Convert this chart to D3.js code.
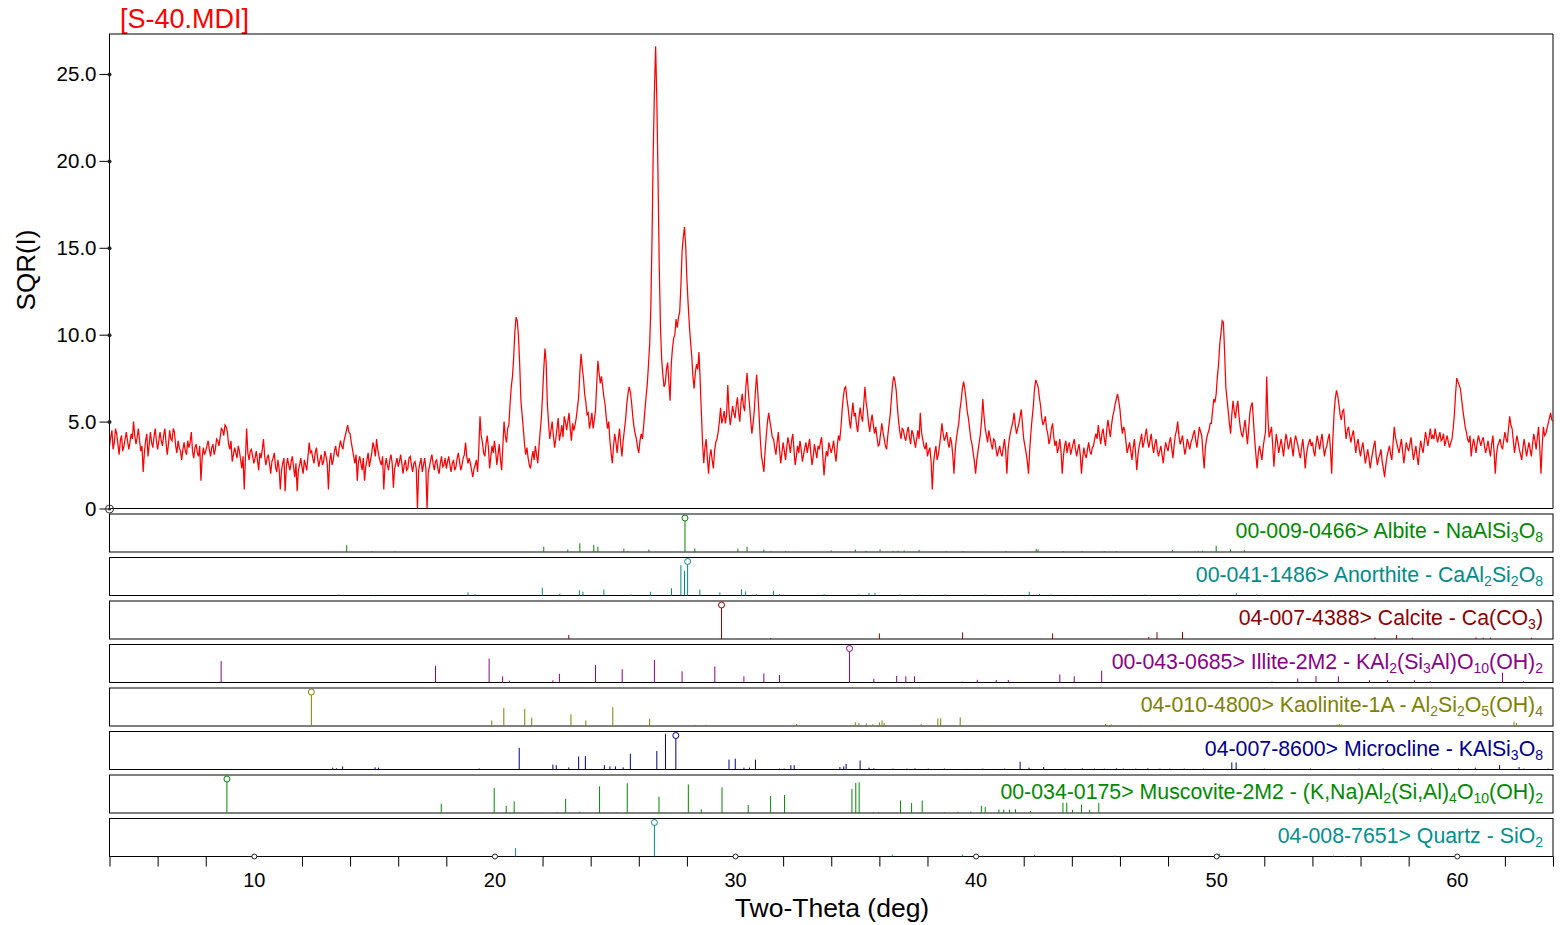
<!DOCTYPE html>
<html>
<head>
<meta charset="utf-8">
<script src="https://cdn.jsdelivr.net/npm/d3@7"></script>
<style>
  body { margin: 0; background: #fff; }
  svg { display: block; font-family: "Liberation Sans", Arial, sans-serif; }
</style>
</head>
<body>
<svg id="chart" width="1560" height="925"></svg>
<script>
// scan: SQR(I), 4.00 to 64.00 deg in 0.05 deg steps (one row per degree)
const twoThetaStart = 4.0;
const twoThetaStep = 0.05;
const sqrIntensity = [
  3.6, 4.1, 4.5, 3.4, 3.8, 4.6, 4.3, 3.7, 3.1, 3.9, 4.2, 3.3, 3.6, 4.0, 4.4, 3.9, 3.4, 3.8, 4.3, 4.0,
  5.0, 4.2, 3.7, 4.1, 4.6, 3.9, 3.3, 3.6, 2.1, 3.2, 3.9, 4.3, 3.0, 3.7, 4.4, 3.8, 3.5, 4.1, 4.6, 3.9,
  3.4, 3.9, 4.4, 3.9, 3.6, 4.2, 4.6, 3.8, 3.1, 3.7, 4.5, 4.0, 3.9, 4.6, 4.4, 3.6, 3.2, 3.9, 3.5, 3.3,
  2.8, 3.4, 3.8, 3.3, 3.1, 3.9, 3.5, 3.8, 4.4, 3.3, 2.9, 3.5, 3.7, 3.2, 3.0, 3.6, 1.6, 2.9, 3.5, 3.1,
  3.3, 3.6, 3.9, 3.4, 3.0, 3.5, 3.7, 3.1, 3.4, 4.0, 3.9, 3.6, 4.1, 4.6, 4.5, 4.2, 4.8, 4.7, 4.4, 3.7,
  3.4, 3.9, 2.7, 3.1, 3.5, 3.2, 2.9, 3.6, 3.3, 2.8, 2.3, 3.0, 1.1, 2.9, 4.6, 3.2, 2.8, 3.3, 3.4, 3.0,
  2.6, 2.9, 3.3, 2.8, 2.2, 3.2, 2.9, 3.4, 4.0, 3.0, 2.5, 2.9, 3.1, 2.6, 2.0, 2.7, 2.9, 3.2, 2.4, 2.1,
  2.8, 2.3, 1.1, 2.2, 2.6, 2.9, 1.0, 2.4, 2.9, 2.5, 2.2, 2.7, 3.0, 2.4, 1.8, 2.6, 1.0, 2.2, 2.5, 2.9,
  2.4, 2.0, 2.8, 2.5, 2.2, 3.0, 3.8, 3.2, 3.3, 2.9, 2.6, 3.2, 3.5, 2.9, 2.4, 2.8, 3.1, 2.5, 2.7, 3.3,
  3.0, 2.6, 1.1, 2.7, 3.2, 2.5, 2.8, 3.3, 3.6, 3.1, 3.0, 3.5, 3.9, 3.6, 3.4, 3.9, 4.2, 4.5, 4.8, 4.4,
  4.3, 3.8, 3.4, 3.0, 2.6, 3.1, 1.6, 2.7, 3.0, 2.6, 2.2, 2.9, 1.6, 2.4, 2.8, 3.2, 2.4, 2.8, 3.2, 3.8,
  3.5, 3.0, 4.0, 3.4, 3.0, 2.7, 2.5, 3.0, 1.1, 2.4, 2.9, 2.5, 2.2, 2.8, 3.1, 2.6, 1.2, 2.3, 2.6, 2.9,
  2.4, 2.7, 3.1, 2.6, 2.0, 2.5, 2.8, 2.2, 2.3, 2.9, 3.0, 2.5, 2.1, 2.6, 2.7, 2.3, 0.0, 2.2, 2.6, 2.9,
  2.1, 2.5, 2.9, 2.3, 0.0, 2.1, 2.4, 2.8, 3.1, 2.6, 2.2, 2.7, 2.8, 2.3, 2.0, 2.6, 3.0, 2.4, 2.5, 2.9,
  2.3, 2.7, 3.0, 2.5, 2.1, 2.6, 2.8, 2.2, 2.4, 2.9, 3.2, 2.7, 2.2, 2.5, 2.9, 3.1, 3.8, 3.0, 2.6, 2.9,
  2.6, 2.2, 1.8, 2.3, 2.5, 2.8, 2.1, 3.4, 5.3, 4.2, 3.8, 3.2, 3.0, 3.7, 4.2, 3.5, 2.3, 3.0, 3.6, 3.2,
  3.9, 3.3, 2.5, 3.1, 3.7, 2.8, 2.2, 3.6, 5.0, 4.2, 3.8, 4.6, 4.8, 6.0, 7.0, 7.6, 8.7, 10.2, 11.0, 10.8,
  9.9, 8.3, 6.2, 5.4, 4.6, 3.7, 3.1, 3.5, 2.9, 2.5, 2.3, 2.9, 3.3, 2.8, 3.6, 3.1, 2.6, 3.5, 4.4, 5.2,
  6.5, 8.0, 9.2, 8.4, 6.0, 4.9, 4.0, 4.5, 5.0, 4.2, 3.5, 4.0, 4.6, 5.2, 3.9, 4.3, 4.8, 4.1, 5.3, 5.0,
  4.5, 5.0, 5.5, 4.6, 3.9, 4.9, 4.5, 4.8, 5.2, 5.8, 6.4, 7.8, 8.9, 8.1, 7.5, 6.6, 6.1, 5.4, 5.5, 4.6,
  5.0, 5.5, 4.6, 5.1, 5.6, 7.1, 8.5, 7.8, 7.2, 7.6, 7.0, 6.4, 6.0, 5.2, 4.6, 5.0, 3.9, 3.2, 2.6, 3.6,
  4.3, 3.8, 3.2, 4.0, 4.6, 3.7, 3.0, 3.9, 4.5, 5.1, 6.0, 6.6, 7.0, 6.7, 6.1, 5.3, 4.7, 4.3, 4.0, 3.5,
  3.2, 3.9, 4.3, 4.0, 4.7, 5.6, 6.4, 7.1, 8.2, 9.4, 11.5, 15.5, 20.5, 24.0, 26.6, 23.5, 19.0, 14.0, 10.5, 8.6,
  7.7, 7.0, 7.2, 8.0, 8.4, 7.3, 6.2, 8.3, 9.2, 9.8, 10.0, 10.9, 10.4, 11.0, 11.3, 12.8, 14.8, 15.6, 16.2, 15.1,
  13.2, 11.8, 10.6, 9.6, 8.8, 7.6, 6.9, 7.8, 8.3, 8.0, 9.0, 7.4, 5.6, 3.8, 2.6, 3.5, 4.0, 2.9, 2.0, 3.0,
  3.4, 2.8, 2.3, 3.3, 3.8, 4.0, 4.4, 5.0, 5.8, 4.9, 5.2, 5.6, 4.9, 5.4, 7.1, 5.6, 4.8, 5.3, 5.9, 5.5,
  5.2, 5.9, 6.4, 5.5, 5.0, 6.1, 6.6, 5.9, 5.6, 7.0, 7.8, 6.8, 6.0, 5.1, 4.3, 4.9, 5.6, 6.8, 7.7, 6.6,
  5.4, 4.0, 3.0, 2.6, 2.1, 3.3, 4.2, 5.0, 5.5, 5.0, 4.6, 4.1, 4.0, 3.5, 3.1, 3.8, 4.4, 3.4, 2.6, 3.2,
  3.8, 3.3, 2.8, 3.5, 4.1, 3.7, 3.2, 3.9, 4.3, 3.4, 2.5, 3.0, 3.6, 3.2, 3.9, 3.4, 2.7, 3.1, 3.5, 3.8,
  3.2, 3.6, 4.0, 3.2, 2.5, 3.0, 3.7, 3.3, 2.9, 3.6, 3.4, 3.8, 4.1, 3.0, 1.9, 2.8, 3.3, 3.0, 3.8, 3.5,
  3.2, 3.5, 3.9, 3.2, 2.7, 3.6, 4.2, 3.9, 4.6, 5.6, 6.4, 6.9, 7.0, 6.3, 5.8, 5.1, 4.6, 5.4, 6.1, 5.3,
  5.5, 4.8, 4.4, 5.2, 5.8, 5.3, 5.0, 6.0, 7.0, 6.1, 5.6, 4.9, 4.4, 5.0, 5.4, 4.8, 4.3, 4.7, 4.1, 3.6,
  3.7, 4.3, 4.9, 4.4, 4.0, 3.6, 3.4, 4.2, 4.8, 5.4, 6.3, 7.2, 7.6, 7.3, 6.8, 5.8, 5.0, 4.4, 4.0, 4.6,
  4.5, 4.1, 3.9, 4.4, 4.7, 4.1, 3.7, 4.5, 4.3, 3.9, 3.5, 4.0, 4.5, 4.0, 5.5, 4.4, 4.0, 3.6, 3.4, 3.8,
  3.0, 3.3, 3.5, 2.7, 1.1, 2.6, 3.2, 3.6, 2.8, 3.1, 3.6, 4.2, 4.9, 4.3, 3.9, 4.1, 4.4, 3.8, 3.5, 4.1,
  3.8, 3.1, 2.0, 3.3, 4.0, 4.5, 4.9, 5.7, 6.2, 6.9, 7.3, 6.9, 6.3, 5.6, 5.2, 4.6, 4.0, 3.7, 3.2, 2.7,
  2.0, 2.8, 3.3, 3.8, 4.3, 5.1, 6.3, 5.3, 4.6, 4.2, 3.8, 4.5, 4.1, 3.7, 3.4, 4.0, 3.9, 3.4, 3.0, 3.3,
  3.6, 3.2, 3.0, 3.5, 4.0, 3.3, 2.0, 3.4, 4.0, 4.4, 4.7, 5.0, 5.5, 4.8, 4.3, 4.6, 4.9, 5.3, 5.7, 4.8,
  4.0, 3.6, 3.2, 2.7, 2.0, 3.4, 4.4, 5.2, 5.9, 6.9, 7.4, 7.2, 7.0, 6.4, 5.9, 5.2, 4.8, 5.0, 5.3, 4.6,
  4.3, 3.7, 4.0, 4.6, 4.9, 4.1, 3.6, 3.9, 3.2, 3.5, 4.0, 3.3, 2.0, 3.0, 3.6, 3.9, 3.2, 3.6, 3.8, 3.1,
  3.4, 3.7, 4.0, 3.4, 3.0, 3.4, 3.7, 3.1, 2.0, 2.9, 3.5, 3.1, 2.9, 3.4, 3.8, 3.3, 3.1, 3.5, 3.6, 4.0,
  4.3, 4.0, 4.8, 4.2, 3.7, 4.3, 4.6, 4.0, 3.6, 4.5, 5.1, 4.6, 4.1, 4.8, 5.3, 5.6, 6.0, 6.3, 6.6, 6.2,
  5.7, 4.9, 4.3, 4.7, 4.5, 3.8, 3.2, 3.5, 3.8, 3.3, 2.8, 3.5, 4.0, 3.2, 2.2, 3.1, 3.6, 3.9, 4.3, 3.5,
  3.8, 4.2, 4.6, 3.9, 3.5, 3.9, 4.3, 3.6, 3.2, 3.7, 4.0, 3.4, 3.0, 3.3, 3.6, 3.1, 2.6, 3.3, 3.8, 3.5,
  3.3, 3.8, 4.1, 3.5, 2.9, 3.6, 4.2, 4.5, 5.0, 4.2, 3.7, 3.9, 4.2, 3.6, 3.1, 3.5, 4.0, 3.7, 3.4, 3.8,
  4.0, 4.3, 4.5, 3.9, 3.5, 4.1, 4.7, 4.4, 4.2, 3.2, 2.3, 3.5, 4.0, 4.3, 4.5, 4.9, 4.9, 5.6, 6.3, 6.1,
  6.6, 7.6, 8.3, 9.5, 10.1, 10.8, 10.7, 9.0, 7.0, 6.3, 5.6, 4.9, 4.3, 5.4, 6.2, 5.6, 5.2, 5.8, 6.2, 5.3,
  4.7, 4.3, 4.1, 4.6, 5.1, 4.4, 3.7, 4.6, 5.5, 5.9, 6.1, 5.0, 4.0, 3.1, 2.3, 3.2, 3.6, 3.2, 2.8, 3.5,
  4.0, 4.4, 7.6, 5.2, 4.1, 4.4, 4.7, 3.6, 2.4, 3.5, 4.3, 3.8, 3.2, 3.6, 4.0, 3.5, 3.0, 3.7, 4.3, 3.9,
  3.4, 3.7, 4.1, 3.5, 3.0, 3.8, 4.2, 3.9, 3.6, 3.2, 2.9, 3.5, 4.0, 3.3, 2.3, 3.1, 3.5, 3.8, 4.0, 3.6,
  3.8, 3.3, 3.0, 3.7, 4.2, 3.8, 3.4, 3.9, 4.3, 3.6, 3.0, 3.4, 3.6, 4.0, 4.3, 3.4, 2.0, 4.0, 5.5, 6.3,
  6.8, 6.5, 6.0, 5.4, 5.1, 5.6, 5.7, 4.8, 4.0, 4.5, 4.7, 4.2, 3.8, 4.2, 4.5, 3.9, 3.2, 3.7, 4.0, 3.4,
  3.0, 3.5, 3.8, 3.2, 2.6, 3.0, 3.4, 2.9, 2.3, 2.8, 3.2, 3.6, 3.9, 3.0, 2.5, 2.9, 3.1, 3.4, 2.7, 2.3,
  1.8, 2.5, 3.0, 3.3, 3.6, 3.1, 2.8, 3.7, 4.7, 4.1, 3.8, 3.5, 3.2, 3.6, 4.0, 3.3, 2.6, 3.2, 3.8, 3.5,
  3.3, 3.7, 4.1, 3.4, 2.8, 3.2, 3.6, 3.0, 2.5, 3.3, 3.9, 3.5, 3.2, 3.8, 4.4, 4.0, 3.6, 4.1, 4.6, 4.0,
  4.2, 4.0, 4.6, 4.2, 3.8, 4.1, 4.4, 3.9, 4.0, 4.3, 3.6, 3.9, 4.2, 3.8, 3.5, 3.8, 4.0, 4.6, 5.4, 6.6,
  7.5, 7.3, 7.1, 6.9, 6.3, 5.7, 5.2, 4.7, 4.4, 4.0, 3.8, 4.2, 3.0, 3.6, 4.0, 3.6, 3.2, 3.8, 4.2, 3.9,
  3.6, 3.9, 4.1, 3.6, 3.2, 3.5, 3.9, 3.4, 3.0, 3.7, 4.2, 3.3, 2.0, 3.1, 3.6, 3.8, 4.0, 3.6, 3.4, 3.9,
  4.4, 4.0, 3.8, 4.6, 5.3, 4.8, 4.6, 3.9, 3.2, 3.7, 4.2, 3.8, 3.4, 3.1, 2.8, 3.5, 4.0, 3.5, 3.0, 3.4,
  3.8, 3.4, 3.0, 3.7, 4.3, 3.9, 3.4, 4.1, 4.7, 3.5, 2.0, 3.6, 4.7, 4.2, 4.3, 4.6, 4.9, 5.2, 5.5, 5.1,
  5.0
];

const yTicks = [0, 5, 10, 15, 20, 25];
const xLabelTicks = [10, 20, 30, 40, 50, 60];
const xMinorTicks = [4, 6, 8, 12, 14, 16, 18, 22, 24, 26, 28, 32, 34, 36, 38,
  42, 44, 46, 48, 52, 54, 56, 58, 62, 64];

// reference cards: [2theta, relative intensity %]
const albitePeaks = [[13.86, 22], [14.9, 3], [15.86, 3], [22.05, 17], [23.05, 8], [23.55, 28],
  [24.13, 23], [24.3, 17], [25.38, 11], [25.55, 3], [26.42, 8], [27.92, 100], [28.33, 11],
  [30.12, 11], [30.5, 17], [31.2, 8], [31.5, 3], [32.1, 3], [34.0, 5], [35.0, 8], [35.45, 4],
  [36.03, 8], [36.57, 4], [36.78, 4], [37.03, 5], [37.65, 7], [38.78, 3], [39.48, 3],
  [41.27, 3], [42.52, 10], [42.6, 8], [43.64, 3], [44.43, 3], [45.35, 3], [45.85, 3],
  [48.18, 7], [49.26, 3], [49.43, 4], [50.0, 20], [50.6, 8], [51.17, 6]];
const anorthitePeaks = [[13.53, 3], [14.98, 2], [18.9, 10], [19.2, 4], [21.99, 25], [22.72, 6],
  [23.53, 17], [23.68, 12], [24.55, 19], [25.67, 3], [26.49, 12], [27.36, 23], [27.75, 98],
  [27.9, 80], [28.03, 100], [28.54, 19], [29.37, 10], [30.27, 20], [30.44, 13], [30.9, 4],
  [31.6, 15], [31.85, 4], [33.7, 4], [35.16, 3], [35.57, 8], [35.82, 8], [36.86, 3],
  [37.36, 2], [37.69, 3], [38.24, 2], [38.74, 3], [39.8, 2], [40.4, 3], [41.23, 2],
  [42.23, 12], [42.66, 5], [43.14, 3], [44.0, 2], [44.8, 2], [45.63, 2], [47.05, 3],
  [47.2, 2], [48.47, 3], [49.3, 3], [49.63, 2], [50.84, 8], [51.67, 3], [51.93, 2],
  [53.3, 2], [53.5, 2], [54.9, 2], [56.5, 2], [57.14, 2], [58.15, 2], [58.96, 2],
  [60.57, 2], [61.37, 2], [62.28, 2], [62.95, 2]];
const calcitePeaks = [[23.09, 13], [29.44, 100], [31.48, 3], [36.0, 18], [39.46, 21],
  [43.2, 18], [47.2, 7], [47.54, 22], [48.6, 23], [56.6, 5], [57.5, 13], [58.15, 4],
  [60.8, 5], [61.1, 4], [61.4, 4], [63.1, 4]];
const illitePeaks = [[8.64, 69], [17.55, 54], [19.78, 77], [20.34, 20], [20.62, 6], [22.43, 7],
  [22.7, 28], [24.2, 56], [25.31, 43], [26.65, 73], [27.8, 36], [29.16, 52], [30.37, 20],
  [31.2, 29], [31.85, 24], [34.76, 100], [35.77, 12], [36.72, 21], [37.1, 20], [37.46, 20],
  [39.44, 3], [40.07, 9], [40.86, 8], [41.36, 8], [43.5, 26], [44.1, 20], [45.24, 38],
  [52.32, 3], [53.39, 13], [54.15, 21], [55.08, 20], [56.37, 8], [57.12, 8], [58.24, 8],
  [58.9, 4], [61.9, 32], [62.78, 4]];
const kaolinitePeaks = [[12.39, 100], [19.89, 18], [20.39, 58], [21.26, 55], [21.55, 27],
  [23.18, 38], [23.8, 18], [24.92, 61], [26.09, 3], [26.45, 23], [28.32, 4], [28.79, 4],
  [31.58, 2], [32.56, 6], [35.0, 12], [35.15, 10], [35.46, 8], [35.73, 6], [36.0, 12],
  [36.11, 18], [36.2, 10], [37.74, 6], [38.43, 24], [38.55, 25], [39.36, 28], [40.1, 3],
  [45.4, 6], [45.64, 5], [46.85, 3], [48.07, 3], [55.02, 5], [55.12, 6], [55.22, 5],
  [62.38, 14], [62.48, 10]];
const microclinePeaks = [[13.28, 6], [13.43, 4], [13.69, 10], [15.04, 7], [15.18, 6],
  [19.37, 3], [21.03, 70], [22.43, 16], [22.57, 14], [23.09, 7], [23.5, 42], [23.78, 43],
  [24.57, 14], [24.8, 10], [25.03, 10], [25.35, 7], [25.65, 51], [26.75, 60], [27.11, 115],
  [27.54, 100], [29.75, 32], [30.01, 35], [30.37, 6], [30.6, 6], [30.85, 32], [31.85, 3],
  [32.04, 3], [32.32, 14], [32.46, 14], [34.36, 8], [34.52, 10], [34.62, 18], [35.2, 29],
  [35.57, 6], [35.77, 4], [36.57, 3], [37.14, 3], [37.48, 4], [38.03, 3], [38.7, 3],
  [39.6, 2], [40.3, 3], [40.81, 2], [41.21, 3], [41.85, 25], [42.22, 6], [42.83, 8],
  [43.72, 3], [44.43, 4], [44.94, 3], [45.35, 3], [45.85, 4], [46.14, 3], [46.66, 3],
  [47.16, 4], [47.66, 3], [48.07, 3], [48.67, 3], [49.07, 2], [49.47, 3], [49.78, 2],
  [50.65, 23], [50.83, 23], [52.0, 3], [52.9, 2], [53.92, 3], [54.92, 2], [55.93, 3],
  [56.94, 3], [57.95, 2], [58.95, 3], [60.07, 3], [60.77, 6], [61.78, 14], [62.59, 8],
  [62.79, 3], [63.8, 3]];
const muscovitePeaks = [[8.88, 100], [17.79, 30], [19.99, 81], [20.49, 23], [20.82, 37],
  [22.6, 2], [22.96, 46], [23.55, 4], [24.37, 86], [25.07, 2], [25.52, 96], [26.84, 53],
  [28.06, 92], [28.6, 12], [29.46, 83], [30.55, 26], [31.48, 55], [32.06, 58], [34.86, 78],
  [35.02, 97], [35.16, 99], [35.77, 3], [35.97, 3], [36.88, 40], [37.34, 32], [37.78, 40],
  [38.71, 2], [39.26, 4], [39.8, 5], [40.24, 23], [40.4, 19], [40.97, 11], [41.17, 11],
  [41.41, 11], [41.66, 12], [42.28, 6], [43.63, 33], [43.79, 33], [44.03, 10], [44.4, 27],
  [44.74, 10], [45.12, 32]];
const quartzPeaks = [[20.88, 27], [26.65, 100], [36.54, 6], [39.46, 6], [40.29, 3],
  [42.45, 5], [45.79, 3], [50.14, 9], [54.87, 3], [55.33, 2], [57.24, 2], [59.96, 5]];

const phaseLabels = [
  "00-009-0466> Albite - NaAlSi_3O_8",
  "00-041-1486> Anorthite - CaAl_2Si_2O_8",
  "04-007-4388> Calcite - Ca(CO_3)",
  "00-043-0685> Illite-2M2 - KAl_2(Si_3Al)O_10(OH)_2",
  "04-010-4800> Kaolinite-1A - Al_2Si_2O_5(OH)_4",
  "04-007-8600> Microcline - KAlSi_3O_8",
  "00-034-0175> Muscovite-2M2 - (K,Na)Al_2(Si,Al)_4O_10(OH)_2",
  "04-008-7651> Quartz - SiO_2"
];
const phasePeaks = [albitePeaks, anorthitePeaks, calcitePeaks, illitePeaks,
  kaolinitePeaks, microclinePeaks, muscovitePeaks, quartzPeaks];
const phaseColors = ["#008a00", "#008b8b", "#900000", "#8b008b",
  "#808000", "#000090", "#008a00", "#009090"];

const svg = d3.select("#chart");

var x = d3.scaleLinear().domain([4, 64]).range([109.5, 1553]);
var y = d3.scaleLinear().domain([0, 27.3]).range([508.5, 34]);
var stickLen = d3.scaleLinear().domain([0, 100]).range([0, 31]);

// title
svg.append("text")
  .attr("x", 120).attr("y", 28)
  .attr("font-size", 27)
  .attr("fill", "#ff0000")
  .text("[S-40.MDI]");

// main frame
svg.append("line").attr("x1", 109).attr("x2", 1553).attr("y1", 34).attr("y2", 34).attr("stroke", "#000");
svg.append("line").attr("x1", 1553).attr("x2", 1553).attr("y1", 34).attr("y2", 508.5).attr("stroke", "#000");
svg.append("line").attr("x1", 109.5).attr("x2", 109.5).attr("y1", 34).attr("y2", 508.5).attr("stroke", "#000");
svg.append("line").attr("x1", 109).attr("x2", 1553).attr("y1", 508.5).attr("y2", 508.5).attr("stroke", "#000");

// scan line
svg.append("clipPath").attr("id", "plotclip")
  .append("rect").attr("x", 110).attr("y", 34).attr("width", 1443).attr("height", 475);

var line = d3.line()
  .x(function(d, i) { return x(twoThetaStart + i * twoThetaStep); })
  .y(function(d) { return y(d); });

svg.append("path")
  .datum(sqrIntensity)
  .attr("clip-path", "url(#plotclip)")
  .attr("d", line)
  .attr("fill", "none")
  .attr("stroke", "#ff0000")
  .attr("stroke-width", 1.25);

// y axis
var yAxis = svg.append("g")
  .attr("transform", "translate(109.5,0)")
  .call(d3.axisLeft(y).tickValues(yTicks).tickSize(10).tickPadding(3)
    .tickFormat(function(d) { return d === 0 ? "0" : d.toFixed(1); }));
yAxis.select(".domain").remove();
yAxis.selectAll("text").attr("font-size", 20.5).attr("fill", "#000")
  .attr("font-family", "Liberation Sans, Arial, sans-serif");
yAxis.selectAll(".tick").each(function(d) {
  var t = d3.select(this);
  if (d === 0) {
    t.append("circle").attr("r", 4).attr("fill", "none").attr("stroke", "#333");
    t.append("circle").attr("r", 1.5).attr("fill", "#333");
  } else {
    t.append("circle").attr("r", 2).attr("fill", "#222");
  }
});

svg.append("text")
  .attr("transform", "translate(35,270) rotate(-90)")
  .attr("text-anchor", "middle")
  .attr("font-size", 26)
  .text("SQR(I)");

// reference stick panels
phasePeaks.forEach(function(peaks, i) {
  var top = 514 + 43.5 * i;
  var bottom = top + 38;
  var col = phaseColors[i];
  var g = svg.append("g");

  g.append("rect")
    .attr("x", 109.5).attr("y", top)
    .attr("width", 1553 - 109.5).attr("height", 38)
    .attr("fill", "none").attr("stroke", "#000");

  g.selectAll(".stick")
    .data(peaks)
    .enter()
    .append("line")
    .attr("class", "stick")
    .attr("x1", function(d) { return x(d[0]); })
    .attr("x2", function(d) { return x(d[0]); })
    .attr("y1", bottom)
    .attr("y2", function(d) { return bottom - stickLen(d[1]); })
    .attr("stroke", col)
    .attr("stroke-width", 1);

  g.selectAll(".top")
    .data(peaks.filter(function(d) { return d[1] === 100; }))
    .enter()
    .append("circle")
    .attr("cx", function(d) { return x(d[0]); })
    .attr("cy", bottom - stickLen(100) - 3)
    .attr("r", 3)
    .attr("fill", "#fff")
    .attr("stroke", col);

  var label = g.append("text")
    .attr("x", 1543).attr("y", top + 24)
    .attr("text-anchor", "end")
    .attr("font-size", 21.3)
    .attr("fill", col);
  var parts = phaseLabels[i].split(/_(\d+)/);
  var shifted = false;
  parts.forEach(function(p, k) {
    if (p === "") return;
    if (k % 2 === 1) {
      label.append("tspan").attr("font-size", 14).attr("dy", shifted ? 0 : 4).text(p);
      shifted = true;
    } else {
      label.append("tspan").attr("dy", shifted ? -4 : 0).text(p);
      shifted = false;
    }
  });
});

// x axis
var xMinor = svg.append("g")
  .attr("transform", "translate(0,856.5)")
  .call(d3.axisBottom(x).tickValues(xMinorTicks).tickSize(10).tickFormat(""));
xMinor.select(".domain").remove();

var xMajor = svg.append("g")
  .attr("transform", "translate(0,856.5)")
  .call(d3.axisBottom(x).tickValues(xLabelTicks).tickSize(0)
    .tickFormat(function(d) { return d; }));
xMajor.select(".domain").remove();
xMajor.selectAll("text").attr("y", 30).attr("dy", 0).attr("font-size", 20)
  .attr("fill", "#000").attr("font-family", "Liberation Sans, Arial, sans-serif");
xMajor.selectAll(".tick").append("circle")
  .attr("r", 2.5).attr("fill", "#fff").attr("stroke", "#222");

svg.append("text")
  .attr("x", 832).attr("y", 917)
  .attr("text-anchor", "middle")
  .attr("font-size", 26.5)
  .text("Two-Theta (deg)");
</script>
</body>
</html>
